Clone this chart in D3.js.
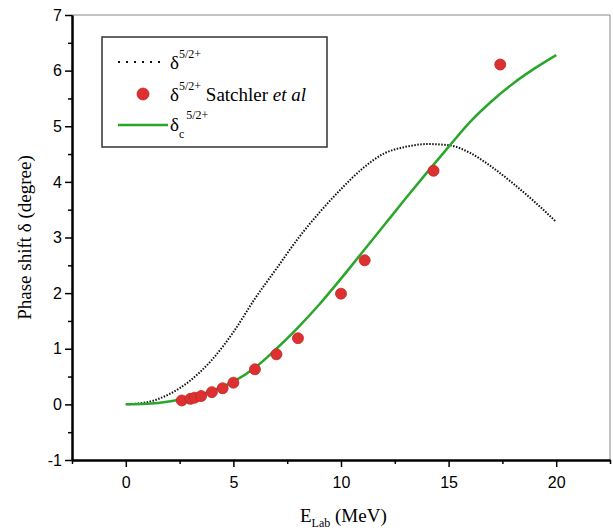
<!DOCTYPE html>
<meta charset="utf-8">
<head>
<style>
  body { margin: 0; background: #fff; }
  .tick text { font-family: "Liberation Sans", Arial, sans-serif; font-size: 16px; fill: #000; }
  .serif { font-family: "Liberation Serif", "Times New Roman", serif; fill: #000; }
</style>
</head>
<script src="https://d3js.org/d3.v7.min.js"></script>
<body>
<div id="my_dataviz"></div>
<script>
// curve samples, E_Lab = 0..20 MeV
var energyGrid = [0,1,2,3,4,5,6,7,8,9,10,11,12,13,14,15,16,17,18,19,20];
var deltaBare = [0,0.04,0.18,0.43,0.8,1.3,1.9,2.44,2.98,3.45,3.87,4.24,4.51,4.63,4.68,4.66,4.52,4.27,3.97,3.64,3.28];
var deltaC    = [0,0.01,0.05,0.13,0.24,0.41,0.66,1.0,1.38,1.8,2.26,2.74,3.22,3.7,4.17,4.63,5.08,5.45,5.77,6.04,6.28];

// Satchler et al points
var satchlerE     = [2.6,3.0,3.2,3.5,4.0,4.5,5.0,6.0,7.0,8.0,10.0,11.1,14.3,17.4];
var satchlerDelta = [0.07,0.10,0.12,0.15,0.22,0.29,0.39,0.63,0.90,1.19,1.99,2.59,4.20,6.11];

var xMajor = [0,5,10,15,20];
var xMinor = [-2.5,2.5,7.5,12.5,17.5,22.5];
var yMajor = [-1,0,1,2,3,4,5,6,7];
var yMinor = [-0.5,0.5,1.5,2.5,3.5,4.5,5.5,6.5];

var margin = {top: 15, right: 3, bottom: 71, left: 72},
    width = 613 - margin.left - margin.right,
    height = 531 - margin.top - margin.bottom;

var root = d3.select("#my_dataviz")
  .append("svg")
    .attr("width", 613)
    .attr("height", 531);

var svg = root.append("g")
    .attr("transform", "translate(" + margin.left + "," + margin.top + ")");

var x = d3.scaleLinear().domain([-2.5, 22.5]).range([0, width]);
var y = d3.scaleLinear().domain([-1, 7]).range([height, 0]);

// frame (top / right)
svg.append("line").attr("x1", 0).attr("x2", width).attr("y1", 0).attr("y2", 0)
  .attr("stroke", "#888").attr("stroke-width", 1);
svg.append("line").attr("x1", width).attr("x2", width).attr("y1", 0).attr("y2", height)
  .attr("stroke", "#888").attr("stroke-width", 1);

// axes
var plain = function(d) { return String(d); };
svg.append("g").attr("transform", "translate(0," + height + ")")
  .call(d3.axisBottom(x).tickValues(xMajor).tickSize(7).tickPadding(10).tickFormat(plain).tickSizeOuter(0));
svg.append("g").attr("transform", "translate(0," + height + ")")
  .call(d3.axisBottom(x).tickValues(xMinor).tickSize(4).tickFormat("").tickSizeOuter(0));
svg.append("g")
  .call(d3.axisLeft(y).tickValues(yMajor).tickSize(7).tickPadding(3).tickFormat(plain).tickSizeOuter(0));
svg.append("g")
  .call(d3.axisLeft(y).tickValues(yMinor).tickSize(4).tickFormat("").tickSizeOuter(0));

svg.selectAll(".domain").attr("stroke", "#000").attr("stroke-width", 2);
svg.selectAll(".tick line").attr("stroke", "#000").attr("stroke-width", 1.5);

// curves
var bareData = energyGrid.map(function(e, i) { return [e, deltaBare[i]]; });
var cData = energyGrid.map(function(e, i) { return [e, deltaC[i]]; });
var line = d3.line()
  .x(function(d) { return x(d[0]); })
  .y(function(d) { return y(d[1]); })
  .curve(d3.curveMonotoneX);

svg.append("path").datum(bareData)
  .attr("d", line).attr("fill", "none")
  .attr("stroke", "#111").attr("stroke-width", 2).attr("stroke-dasharray", "1.5,1.5");

svg.append("path").datum(cData)
  .attr("d", line).attr("fill", "none")
  .attr("stroke", "#2aa62a").attr("stroke-width", 2.5);

svg.selectAll(".dot")
  .data(satchlerE.map(function(e, i) { return [e, satchlerDelta[i]]; }))
  .enter().append("circle")
    .attr("class", "dot")
    .attr("cx", function(d) { return x(d[0]); })
    .attr("cy", function(d) { return y(d[1]); })
    .attr("r", 5.5)
    .attr("fill", "#dd3030")
    .attr("stroke", "#c02525")
    .attr("stroke-width", 0.8);

// axis titles
root.append("text").attr("class", "serif")
  .attr("transform", "translate(31," + (margin.top + height / 2) + ") rotate(-90)")
  .attr("text-anchor", "middle")
  .style("font-size", "19px")
  .text("Phase shift \u03b4 (degree)");

var xt = root.append("text").attr("class", "serif")
  .attr("x", 300).attr("y", 522)
  .style("font-size", "19px");
xt.append("tspan").text("E");
xt.append("tspan").attr("dy", 5).style("font-size", "12px").text("Lab");
xt.append("tspan").attr("dy", -5).text(" (MeV)");

// legend
var lg = root.append("g");
lg.append("rect").attr("x", 102).attr("y", 37).attr("width", 225).attr("height", 110)
  .attr("fill", "#fff").attr("stroke", "#333").attr("stroke-width", 1.5);

lg.append("line").attr("x1", 118).attr("x2", 162).attr("y1", 62).attr("y2", 62)
  .attr("stroke", "#111").attr("stroke-width", 2).attr("stroke-dasharray", "2,6");
var t1 = lg.append("text").attr("class", "serif").attr("x", 170).attr("y", 69).style("font-size", "19px");
t1.append("tspan").text("\u03b4");
t1.append("tspan").attr("dy", -11).style("font-size", "12px").text("5/2+");

lg.append("circle").attr("cx", 143).attr("cy", 94).attr("r", 6)
  .attr("fill", "#dd3030").attr("stroke", "#c02525").attr("stroke-width", 0.8);
var t2 = lg.append("text").attr("class", "serif").attr("x", 170).attr("y", 101).style("font-size", "19px");
t2.append("tspan").text("\u03b4");
t2.append("tspan").attr("dy", -11).style("font-size", "12px").text("5/2+");
t2.append("tspan").attr("dy", 11).text(" Satchler ");
t2.append("tspan").style("font-style", "italic").text("et al");

lg.append("line").attr("x1", 118).attr("x2", 168).attr("y1", 125).attr("y2", 125)
  .attr("stroke", "#2aa62a").attr("stroke-width", 2.5);
var t3 = lg.append("text").attr("class", "serif").attr("x", 170).attr("y", 131).style("font-size", "19px");
t3.append("tspan").text("\u03b4");
t3.append("tspan").attr("dy", 7).style("font-size", "12px").text("c");
t3.append("tspan").attr("dx", 2).attr("dy", -19).style("font-size", "12px").text("5/2+");
</script>
</body>
